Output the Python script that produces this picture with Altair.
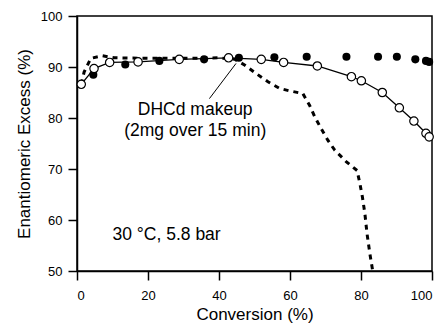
import altair as alt
import pandas as pd

# open circles (connected by solid line)
open_x = [1.2, 4.8, 9.2, 17.2, 28.8, 42.7, 51.9, 58.2, 67.7, 77.3, 80.1, 86.0, 90.8, 94.9, 98.3, 99.2]
open_y = [86.6, 89.7, 90.9, 91.0, 91.5, 91.8, 91.5, 90.9, 90.2, 88.1, 87.3, 85.0, 82.0, 79.4, 77.0, 76.3]

# filled circles
filled_x = [4.6, 13.6, 23.2, 35.8, 45.6, 55.6, 64.7, 75.9, 84.8, 90.1, 95.3, 98.3, 99.2]
filled_y = [88.5, 90.5, 91.2, 91.5, 91.8, 91.9, 92.0, 92.0, 92.0, 92.0, 91.5, 91.2, 91.0]

# dashed curve (DHCd makeup run)
dash_x = [1.2, 2.0, 3.9, 7.2, 10.5, 20.3, 30.0, 40.0, 44.5, 47.2, 50.5, 53.8, 57.1, 60.0, 63.6, 65.5, 67.0, 68.8, 70.7, 72.6, 75.9, 78.9, 79.7, 80.4, 81.1, 81.7, 82.5, 83.3]
dash_y = [86.6, 89.0, 91.7, 92.2, 91.8, 91.7, 91.7, 91.8, 91.5, 90.4, 88.7, 87.1, 85.8, 85.3, 84.8, 82.5, 80.2, 77.9, 75.6, 73.7, 71.4, 69.7, 67.1, 64.5, 61.2, 57.3, 53.4, 50.0]

x_ticks = [0, 20, 40, 60, 80, 100]
y_ticks = [50, 60, 70, 80, 90, 100]

annot_lines = ["DHCd makeup", "(2mg over 15 min)"]
annot_y = [81.5, 77.4]
annot_x = 33.3
arrow = {"x": [37.3], "y": [83.8], "x2": [44.8], "y2": [90.7]}
cond_text = "30 °C, 5.8 bar"

FONT = "Liberation Sans"

open_df = pd.DataFrame({"x": open_x, "y": open_y, "i": range(len(open_x))})
filled_df = pd.DataFrame({"x": filled_x, "y": filled_y})
dash_df = pd.DataFrame({"x": dash_x, "y": dash_y, "i": range(len(dash_x))})

xs = alt.Scale(domain=[0, 100], nice=False)
ys = alt.Scale(domain=[50, 100], nice=False)

xax = alt.X("x:Q", scale=xs, axis=alt.Axis(values=x_ticks, title="Conversion (%)", grid=False,
                                          labelPadding=9, titlePadding=4))
yax = alt.Y("y:Q", scale=ys, axis=alt.Axis(values=y_ticks, title="Enantiomeric Excess (%)", grid=False,
                                          labelPadding=6, titlePadding=7))

dash = alt.Chart(dash_df).mark_line(color="black", strokeWidth=3, strokeDash=[5, 5]).encode(
    x=xax, y=yax, order="i:Q")
solid = alt.Chart(open_df).mark_line(color="black", strokeWidth=1.3).encode(
    x="x:Q", y="y:Q", order="i:Q")
filled = alt.Chart(filled_df).mark_point(shape="circle", filled=True, color="black", size=65, opacity=1).encode(
    x="x:Q", y="y:Q")
opens = alt.Chart(open_df).mark_point(shape="circle", filled=True, fill="white", stroke="black",
                                      strokeWidth=1.2, size=70, opacity=1).encode(x="x:Q", y="y:Q")

rule = alt.Chart(pd.DataFrame(arrow)).mark_rule(color="black", strokeWidth=1).encode(
    x="x:Q", y="y:Q", x2="x2:Q", y2="y2:Q")

annot = alt.Chart(pd.DataFrame({"x": [annot_x] * 2, "y": annot_y, "t": annot_lines})).mark_text(
    font=FONT, fontSize=17.5, align="center", baseline="middle", color="black").encode(
    x="x:Q", y="y:Q", text="t:N")

cond = alt.Chart(pd.DataFrame({"x": [10.0], "y": [57.0], "t": [cond_text]})).mark_text(
    font=FONT, fontSize=17.5, align="left", baseline="middle", color="black").encode(
    x="x:Q", y="y:Q", text="t:N")

chart = alt.layer(dash, solid, filled, opens, rule, annot, cond).properties(
    width=355, height=255,
    autosize=alt.AutoSizeParams(type="none"),
    padding={"left": 69, "top": 8, "right": 5, "bottom": 52},
).configure_view(stroke="black", strokeWidth=1.5).configure_axis(
    domainColor="black", domainWidth=1.5, tickColor="black", tickWidth=1.5, tickSize=9,
    labelFont=FONT, labelFontSize=13, labelColor="black",
    titleFont=FONT, titleFontSize=17, titleFontWeight="normal", titleColor="black",
)

chart.save("out.html", embed_options={"renderer": "svg", "actions": False})
